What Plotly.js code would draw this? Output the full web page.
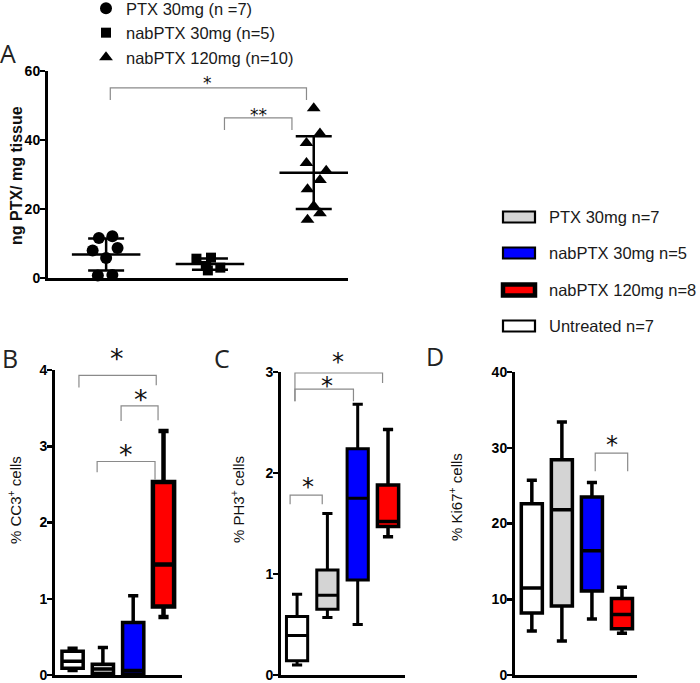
<!DOCTYPE html>
<html><head><meta charset="utf-8">
<script src="https://cdn.plot.ly/plotly-3.0.1.min.js"></script>
<style>html,body{margin:0;padding:0;background:#fff}#chart{width:700px;height:683px}</style>
</head><body><div id="chart"></div>
<script>
// ================= DATA =================
// Panel A: ng PTX / mg tissue, individual animals
const groupNamesA = ['PTX 30mg (n =7)', 'nabPTX 30mg (n=5)', 'nabPTX 120mg (n=10)'];
const ptx30A   = [11.6, 12.1, 8.0, 5.8, 8.7, 0.7, 0.9];
const nab30A   = [5.6, 5.9, 3.5, 3.0, 2.2];
const nab120A  = [49.2, 41.9, 39.1, 33.3, 31.1, 28.4, 25.7, 20.9, 18.8, 16.9];

// Panels B-D: box plots (order: Untreated, PTX 30mg, nabPTX 30mg, nabPTX 120mg)
const boxGroups = ['Untreated n=7', 'PTX 30mg n=7', 'nabPTX 30mg n=5', 'nabPTX 120mg n=8'];
// B: % CC3+ cells
const cc3Min = [0.06, 0.00, 0.00, 0.76];
const cc3Q1  = [0.09, 0.02, 0.01, 0.90];
const cc3Med = [0.18, 0.08, 0.06, 1.45];
const cc3Q3  = [0.31, 0.14, 0.69, 2.53];
const cc3Max = [0.35, 0.36, 1.04, 3.20];
// C: % PH3+ cells
const ph3Min = [0.10, 0.57, 0.50, 1.37];
const ph3Q1  = [0.14, 0.65, 0.94, 1.47];
const ph3Med = [0.39, 0.79, 1.75, 1.52];
const ph3Q3  = [0.58, 1.04, 2.24, 1.88];
const ph3Max = [0.80, 1.60, 2.68, 2.43];
// D: % Ki67+ cells
const ki67Min = [5.8, 4.5, 7.4, 5.5];
const ki67Q1  = [8.2, 9.1, 11.1, 6.1];
const ki67Med = [11.5, 21.8, 16.4, 8.0];
const ki67Q3  = [22.6, 28.4, 23.5, 10.1];
const ki67Max = [25.7, 33.4, 25.4, 11.6];

const legendOrder = ['PTX 30mg n=7', 'nabPTX 30mg n=5', 'nabPTX 120mg n=8', 'Untreated n=7'];

// ================= STYLE / LAYOUT CONSTANTS =================
const W = 700, H = 683;
const px = x => x / W, py = y => 1 - y / H;
const FONT = 'Liberation Sans, Arial, sans-serif';
const boxColors = {'Untreated n=7':'#ffffff','PTX 30mg n=7':'#d4d4d4','nabPTX 30mg n=5':'#0000ff','nabPTX 120mg n=8':'#ff0000'};
const jitterA = [[-0.07,0.06,-0.13,0,0.11,-0.08,0.06],[-0.13,0.01,-0.04,0.1,-0.02],[0,0.06,-0.07,-0.07,0.12,0.06,-0.06,0,0.06,-0.06]];
const symbolsA = ['circle','square','triangle-up'];
const sizesA = [12, 10, 12];
const BRACKET = '#8a8a8a';

// brackets (axis units): [x0, x1, yTop, yLeftEnd, yRightEnd]
const bracketsA = [[1.04, 2.93, 55.1, 51.6, 51.6], [2.14, 2.79, 46.4, 42.9, 42.9]];
const bracketsB = [[0.21, 2.76, 3.93, 3.77, 3.80], [1.60, 2.82, 3.53, 3.33, 3.34], [0.81, 2.72, 2.80, 2.66, 2.56]];
const bracketsC = [[-0.07, 2.82, 2.99, 2.71, 2.89], [-0.07, 1.86, 2.83, 2.71, 2.71], [-0.23, 0.83, 1.78, 1.69, 1.69]];
const bracketsD = [[2.11, 3.19, 29.3, 26.9, 26.9]];
// significance stars (page pixels): [x, y, text, size]
const starMarks = [
  [207, 83, '*', 17], [258, 115, '**', 17],
  [117, 358, '*', 27], [141, 399, '*', 27], [126, 454, '*', 27],
  [338, 362, '*', 24], [327, 386, '*', 24], [308, 487, '*', 24],
  [612, 445, '*', 24]
];

// ================= HELPERS =================
const mean = a => a.reduce((s, v) => s + v, 0) / a.length;
const sd = a => { const m = mean(a); return Math.sqrt(a.reduce((s, v) => s + (v - m) * (v - m), 0) / (a.length - 1)); };

const traces = [];
const annotations = [];
const shapes = [];

// ---- Panel A ----
const seriesA = [ptx30A, nab30A, nab120A];
seriesA.forEach((vals, g) => {
  const pos = g + 1;
  traces.push({
    type: 'scatter', mode: 'markers', xaxis: 'x', yaxis: 'y', name: groupNamesA[g],
    x: vals.map((v, i) => pos + jitterA[g][i]), y: vals, cliponaxis: false,
    marker: {symbol: symbolsA[g], size: sizesA[g], color: '#000'}, showlegend: true, hoverinfo: 'y'
  });
  const m = mean(vals), s = sd(vals);
  traces.push({
    type: 'scatter', mode: 'lines', xaxis: 'x', yaxis: 'y', showlegend: false,
    x: [pos - 0.33, pos + 0.33], y: [m, m], line: {color: '#000', width: 2.5}, hoverinfo: 'skip'
  });
  traces.push({
    type: 'scatter', mode: 'markers', xaxis: 'x', yaxis: 'y', showlegend: false,
    x: [pos], y: [m], marker: {size: 1, color: 'rgba(0,0,0,0)'},
    error_y: {type: 'data', array: [s], visible: true, color: '#000', thickness: 2.5, width: 18}, hoverinfo: 'skip'
  });
});

// ---- Box panels ----
function addBoxes(ax, mins, q1, med, q3, maxs, lw) {
  boxGroups.forEach((name, i) => {
    traces.push({
      type: 'box', xaxis: 'x' + ax, yaxis: 'y' + ax, name: name, showlegend: false,
      x: [i], lowerfence: [mins[i]], q1: [q1[i]], median: [med[i]], q3: [q3[i]], upperfence: [maxs[i]],
      width: 0.7, whiskerwidth: 0.48, boxpoints: false,
      fillcolor: boxColors[name], line: {color: '#000', width: lw[i]}, hoverinfo: 'skip'
    });
  });
}
addBoxes(2, cc3Min, cc3Q1, cc3Med, cc3Q3, cc3Max, [3.5, 3.5, 3.5, 4.5]);
addBoxes(3, ph3Min, ph3Q1, ph3Med, ph3Q3, ph3Max, [3, 3, 3, 3.5]);
addBoxes(4, ki67Min, ki67Q1, ki67Med, ki67Q3, ki67Max, [3.5, 3.5, 3.5, 3.5]);

// ---- Brackets ----
function addBrackets(ax, brackets) {
  const xa = ax === 1 ? 'x' : 'x' + ax, ya = ax === 1 ? 'y' : 'y' + ax;
  brackets.forEach(b => {
    traces.push({
      type: 'scatter', mode: 'lines', xaxis: xa, yaxis: ya, showlegend: false, hoverinfo: 'skip',
      x: [b[0], b[0], b[1], b[1]], y: [b[3], b[2], b[2], b[4]], line: {color: BRACKET, width: 1.2}
    });
  });
}
addBrackets(1, bracketsA);
addBrackets(2, bracketsB);
addBrackets(3, bracketsC);
addBrackets(4, bracketsD);

// ---- Axes ----
const tickFont = {family: FONT, size: 14, color: '#000'};
function yAxis(domain, range, dtick) {
  const vals = [];
  for (let v = range[0]; v <= range[1] + 1e-9; v += dtick) vals.push(v);
  return {domain: domain, range: range, tickmode: 'array', tickvals: vals, ticktext: vals.map(v => '<b>' + v + '</b>'),
    showline: true, linecolor: '#000', linewidth: 3,
    ticks: 'outside', ticklen: 5, tickwidth: 2.5, tickcolor: '#000', showgrid: false, zeroline: false,
    tickfont: tickFont, ticklabelstandoff: -3, ticklabeloverflow: 'allow', fixedrange: true};
}
function xAxis(domain, range, anchor) {
  return {domain: domain, range: range, anchor: anchor, showline: true, linecolor: '#000', linewidth: 3,
    ticks: '', showticklabels: false, showgrid: false, zeroline: false, fixedrange: true};
}

// ---- Text annotations ----
function label(text, x, y, size, opts) {
  annotations.push(Object.assign({xref: 'paper', yref: 'paper', x: px(x), y: py(y), text: text, showarrow: false,
    xanchor: 'center', yanchor: 'middle', font: {family: FONT, size: size, color: '#111'}}, opts || {}));
}
starMarks.forEach(s => label(s[2], s[0], s[1], s[3], {font: {family: 'DejaVu Sans, sans-serif', size: s[3], color: '#111'}}));
label('ng PTX/ mg tissue', 16, 176, 16, {textangle: -90, font: {family: FONT, size: 16, color: '#111', weight: 700}});
label('% CC3<sup>+</sup> cells', 14, 500, 15, {textangle: -90});
label('% PH3<sup>+</sup> cells', 237, 500, 15, {textangle: -90});
label('% Ki67<sup>+</sup> cells', 455, 497, 15, {textangle: -90});
const letterFont = {family: 'Open Sans, DejaVu Sans, sans-serif', size: 25, color: '#222'};
label('A', 8, 53, 25, {font: letterFont});
label('B', 10, 358, 25, {font: letterFont});
label('C', 222, 358, 25, {font: letterFont});
label('D', 435, 356, 25, {font: letterFont});

// ---- Right legend (swatches + text) ----
const legendRows = [217, 253, 290, 326];
legendOrder.forEach((name, i) => {
  const yc = legendRows[i];
  const thick = name.indexOf('120mg') >= 0 ? 4.5 : 2.2;
  shapes.push({type: 'rect', xref: 'paper', yref: 'paper', x0: px(503), x1: px(535), y0: py(yc + 5.5), y1: py(yc - 5.5),
    fillcolor: boxColors[name], line: {color: '#000', width: thick}});
  label(name, 547, yc, 16.5, {xanchor: 'left', font: {family: FONT, size: 16.5, color: '#1a1a1a'}});
});

const layout = {
  width: W, height: H, paper_bgcolor: '#fff', plot_bgcolor: 'rgba(0,0,0,0)',
  margin: {l: 0, r: 0, t: 0, b: 0, autoexpand: false},
  boxmode: 'overlay', showlegend: true,
  legend: {x: px(86), y: py(-9), xanchor: 'left', yanchor: 'top', bgcolor: 'rgba(0,0,0,0)',
    font: {family: FONT, size: 16.5, color: '#1a1a1a'}, tracegroupgap: 0},
  xaxis:  xAxis([px(48), px(348)], [0.44, 3.33], 'y'),
  yaxis:  Object.assign(yAxis([py(278), py(71)], [0, 60], 20), {anchor: 'x'}),
  xaxis2: xAxis([px(55), px(182)], [-0.58, 3.61], 'y2'),
  yaxis2: Object.assign(yAxis([py(675), py(370)], [0, 4], 1), {anchor: 'x2'}),
  xaxis3: xAxis([px(281), px(405)], [-0.53, 3.56], 'y3'),
  yaxis3: Object.assign(yAxis([py(675), py(372)], [0, 3], 1), {anchor: 'x3'}),
  xaxis4: xAxis([px(515), px(637)], [-0.56, 3.5], 'y4'),
  yaxis4: Object.assign(yAxis([py(675), py(372)], [0, 40], 10), {anchor: 'x4'}),
  annotations: annotations, shapes: shapes
};

Plotly.newPlot('chart', traces, layout, {staticPlot: true, displayModeBar: false});
</script>
</body></html>
